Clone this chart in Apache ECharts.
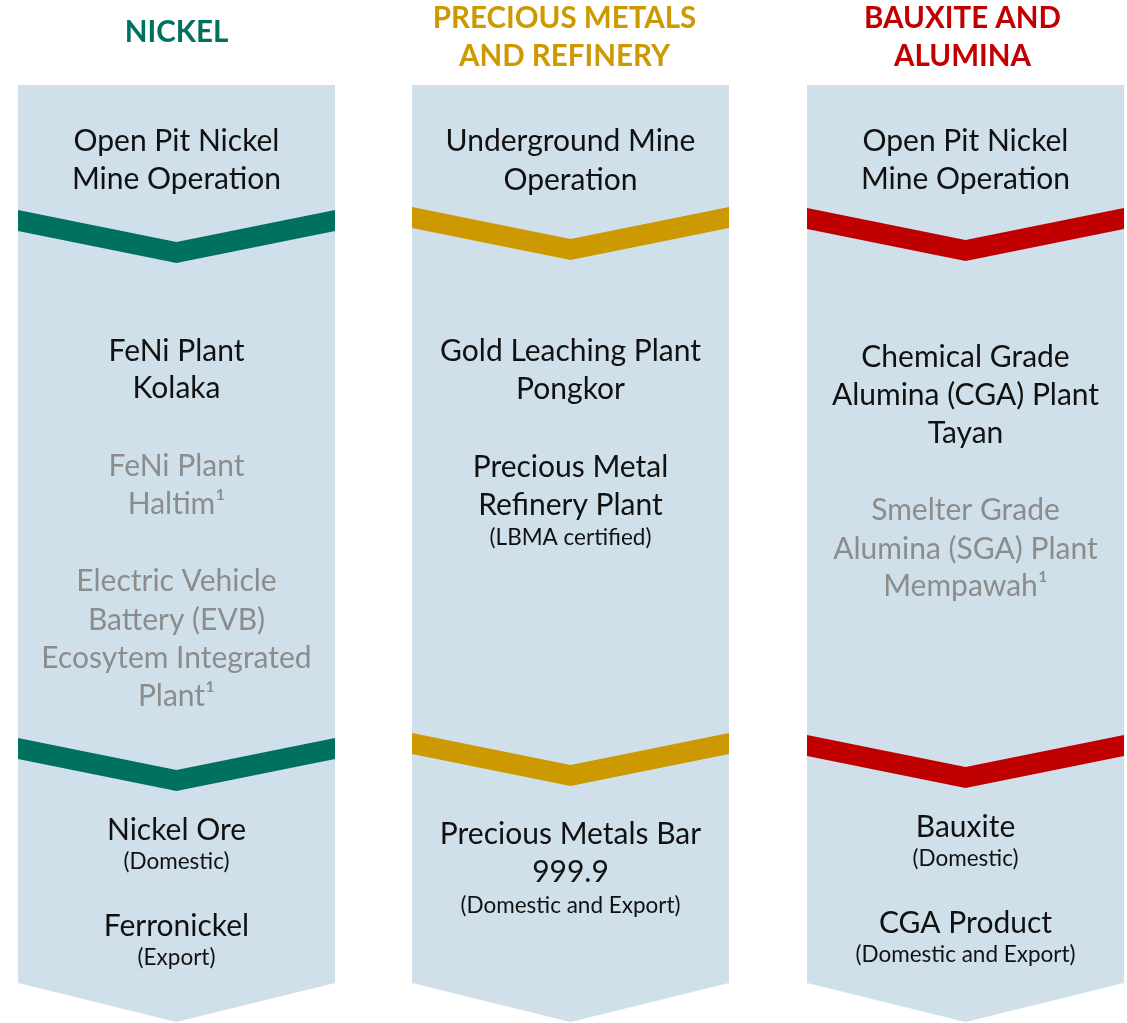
<!DOCTYPE html>
<html>
<head>
<meta charset="utf-8">
<script src="https://cdn.jsdelivr.net/npm/echarts@6/dist/echarts.min.js"></script>
<style>
html,body{margin:0;padding:0;background:#fff;}
#main{width:1127px;height:1023px;}
</style>
</head>
<body>
<div id="main"></div>
<script>
// ---------- DATA ----------
const columnTitles = ['NICKEL', 'PRECIOUS METALS\nAND REFINERY', 'BAUXITE AND\nALUMINA'];
const columnColors = ['#00705f', '#cc9900', '#c00000'];

// text lines per column: [text, kind]  kind: main | planned | note
const nickelLines = [
  ['Open Pit Nickel', 'main'], ['Mine Operation', 'main'],
  ['FeNi Plant', 'main'], ['Kolaka', 'main'],
  ['FeNi Plant', 'planned'], ['Haltim\u00b9', 'planned'],
  ['Electric Vehicle', 'planned'], ['Battery (EVB)', 'planned'],
  ['Ecosytem Integrated', 'planned'], ['Plant\u00b9', 'planned'],
  ['Nickel Ore', 'main'], ['(Domestic)', 'note'],
  ['Ferronickel', 'main'], ['(Export)', 'note']
];
const preciousLines = [
  ['Underground Mine', 'main'], ['Operation', 'main'],
  ['Gold Leaching Plant', 'main'], ['Pongkor', 'main'],
  ['Precious Metal', 'main'], ['Refinery Plant', 'main'], ['(LBMA certified)', 'note'],
  ['Precious Metals Bar', 'main'], ['999.9', 'main'], ['(Domestic and Export)', 'note']
];
const bauxiteLines = [
  ['Open Pit Nickel', 'main'], ['Mine Operation', 'main'],
  ['Chemical Grade', 'main'], ['Alumina (CGA) Plant', 'main'], ['Tayan', 'main'],
  ['Smelter Grade', 'planned'], ['Alumina (SGA) Plant', 'planned'], ['Mempawah\u00b9', 'planned'],
  ['Bauxite', 'main'], ['(Domestic)', 'note'],
  ['CGA Product', 'main'], ['(Domestic and Export)', 'note']
];

// ---------- LAYOUT ----------
const colLeft = [18, 412, 807];
const colWidth = 317;
const boxTop = 85, boxSideBottom = 983, boxTip = 1022;
const chevronTops = [[210, 738], [207, 733], [208, 735]];
const bandThick = 21, bandDip = 32;
const titleY = [[32], [18, 56], [18, 56]];
const titleDx = [0, -6, -3];
const nickelY = [141, 179, 351, 388, 466, 504, 581, 620, 658, 696, 830, 862, 926, 958];
const preciousY = [141, 180, 351, 389, 467, 505, 538, 834, 872, 906];
const bauxiteY = [141, 179, 357, 395, 433, 510, 549, 586, 827, 859, 923, 955];

const FONT = 'Lato, "Open Sans", sans-serif';
const kindStyle = {
  main: {fill: '#111111', size: 30},
  planned: {fill: '#8c8c8c', size: 30},
  note: {fill: '#111111', size: 22.5}
};

const allLines = [nickelLines, preciousLines, bauxiteLines];
const allY = [nickelY, preciousY, bauxiteY];

const textItems = [];
allLines.forEach((lines, c) => {
  lines.forEach((l, i) => {
    textItems.push({x: colLeft[c] + colWidth / 2, y: allY[c][i], text: l[0], kind: l[1]});
  });
});
const titleItems = [];
columnTitles.forEach((t, c) => {
  t.split('\n').forEach((line, i) => {
    titleItems.push({x: colLeft[c] + colWidth / 2 + titleDx[c], y: titleY[c][i], text: line, color: columnColors[c]});
  });
});

const chart = echarts.init(document.getElementById('main'), null, {renderer: 'canvas'});

function pt(api, x, y) { return api.coord([x, y]); }

chart.setOption({
  backgroundColor: '#ffffff',
  animation: false,
  grid: {left: 0, right: 0, top: 0, bottom: 0},
  xAxis: {type: 'value', min: 0, max: 1127, show: false},
  yAxis: {type: 'value', min: 0, max: 1023, inverse: true, show: false},
  series: [
    {
      type: 'custom',
      name: 'columns',
      data: colLeft.map((x, i) => [x, i]),
      renderItem: function (params, api) {
        const c = params.dataIndex;
        const l = colLeft[c], r = l + colWidth, m = l + colWidth / 2;
        const children = [{
          type: 'polygon',
          shape: {points: [pt(api, l, boxTop), pt(api, r, boxTop), pt(api, r, boxSideBottom), pt(api, m, boxTip), pt(api, l, boxSideBottom)]},
          style: {fill: '#cfe0eb'}
        }];
        chevronTops[c].forEach(t => {
          children.push({
            type: 'polygon',
            shape: {points: [pt(api, l, t), pt(api, m, t + bandDip), pt(api, r, t), pt(api, r, t + bandThick), pt(api, m, t + bandDip + bandThick), pt(api, l, t + bandThick)]},
            style: {fill: columnColors[c]}
          });
        });
        return {type: 'group', children: children};
      },
      silent: true
    },
    {
      type: 'custom',
      name: 'titles',
      data: titleItems.map(d => [d.x, d.y]),
      renderItem: function (params, api) {
        const d = titleItems[params.dataIndex];
        const p = api.coord([d.x, d.y]);
        return {type: 'text', x: p[0], y: p[1], style: {text: d.text, fill: d.color, fontSize: 29.5, fontWeight: 'bold', fontFamily: FONT, align: 'center', verticalAlign: 'middle'}};
      },
      silent: true
    },
    {
      type: 'custom',
      name: 'texts',
      data: textItems.map(d => [d.x, d.y]),
      renderItem: function (params, api) {
        const d = textItems[params.dataIndex];
        const s = kindStyle[d.kind];
        const p = api.coord([d.x, d.y]);
        return {type: 'text', x: p[0], y: p[1], style: {text: d.text, fill: s.fill, fontSize: s.size, fontFamily: FONT, align: 'center', verticalAlign: 'middle'}};
      },
      silent: true
    }
  ]
});
</script>
</body>
</html>
